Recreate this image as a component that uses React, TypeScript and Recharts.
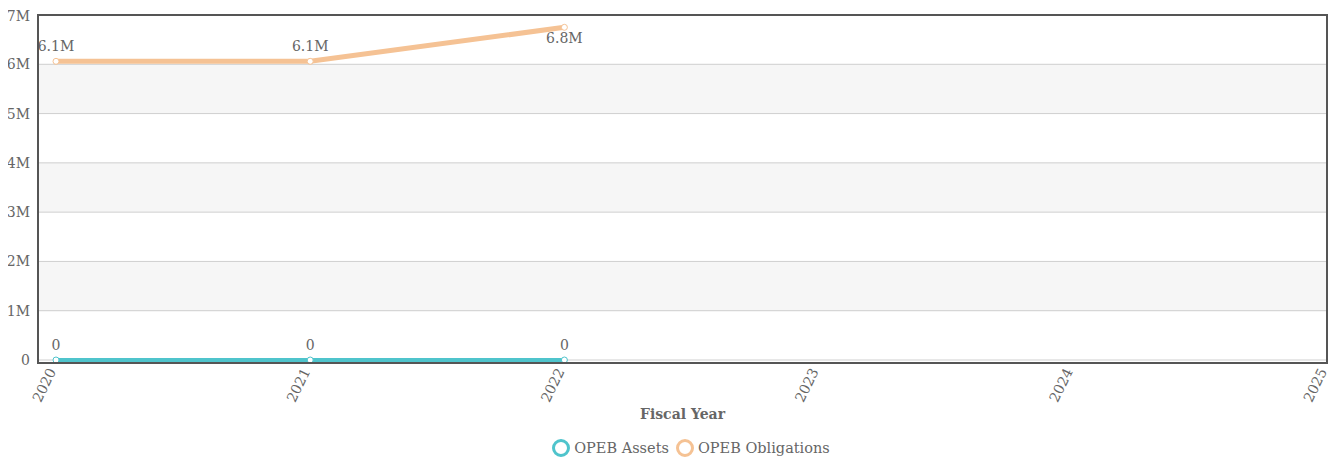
import { LineChart, Line, XAxis, YAxis, CartesianGrid, Legend, LabelList } from "recharts";

const years = ["2020", "2021", "2022", "2023", "2024", "2025"];
const opebAssets = [0, 0, 0, null, null, null];
const opebObligations = [6060000, 6060000, 6750000, null, null, null];
const yTicks = [0, 1000000, 2000000, 3000000, 4000000, 5000000, 6000000, 7000000];

const ASSETS_COLOR = "#4fc4cc";
const OBLIGATIONS_COLOR = "#f5c294";
const TEXT_COLOR = "#666";
const AXIS_COLOR = "#555";
const FONT = "'DejaVu Serif', serif";

const CHART_W = 1333;
const CHART_H = 451;
const MARGIN = { top: 7, right: 14, left: 0, bottom: 0 };
const Y_AXIS_W = 30;
const X_AXIS_H = 59;
const LEGEND_H = 40;

const data = years.map((year, i) => ({
  year,
  assets: opebAssets[i],
  obligations: opebObligations[i],
}));

const formatMillions = (v: number) => (v === 0 ? "0" : `${+(v / 1e6).toFixed(1)}M`);

// value label above the point, or below it when the point sits near the top edge
function PointLabel(props: any) {
  const { x, y, value } = props;
  if (value == null) return null;
  const below = y < 40;
  return (
    <text
      x={x}
      y={below ? y + 16 : y - 10}
      textAnchor="middle"
      fill={TEXT_COLOR}
      fontSize={14}
      fontFamily={FONT}
    >
      {formatMillions(value)}
    </text>
  );
}

// slanted year label, its end tucked just under the tick position
function YearTick(props: any) {
  const { x, y, payload } = props;
  const ax = x - 4;
  const ay = y + 1;
  return (
    <text
      x={ax}
      y={ay}
      dy="0.35em"
      textAnchor="end"
      transform={`rotate(-64, ${ax}, ${ay})`}
      fill={TEXT_COLOR}
      fontSize={14}
      fontFamily={FONT}
    >
      {payload.value}
    </text>
  );
}

function RingLegend() {
  const items = [
    { name: "OPEB Assets", color: ASSETS_COLOR },
    { name: "OPEB Obligations", color: OBLIGATIONS_COLOR },
  ];
  return (
    <div
      style={{
        height: LEGEND_H,
        display: "flex",
        alignItems: "flex-end",
        justifyContent: "center",
        gap: 6,
        fontFamily: FONT,
        fontSize: 14.5,
        color: TEXT_COLOR,
        paddingLeft: 46,
        boxSizing: "border-box",
      }}
    >
      {items.map((it) => (
        <span key={it.name} style={{ display: "inline-flex", alignItems: "center", gap: 3, height: 22 }}>
          <svg width={20} height={20}>
            <circle cx={10} cy={10} r={7.5} fill="none" stroke={it.color} strokeWidth={3} />
          </svg>
          {it.name}
        </span>
      ))}
    </div>
  );
}

export default function App() {
  const plotW = CHART_W - MARGIN.left - MARGIN.right - Y_AXIS_W;
  const plotH = CHART_H - MARGIN.top - MARGIN.bottom - X_AXIS_H - LEGEND_H;
  return (
    <div style={{ position: "relative", width: CHART_W, height: CHART_H, fontFamily: FONT }}>
      <LineChart width={CHART_W} height={CHART_H} data={data} margin={MARGIN}>
        <CartesianGrid vertical={false} stroke="#cfcfcf" horizontalFill={["#ffffff", "#f6f6f6"]} />
        <XAxis
          dataKey="year"
          padding={{ left: 18, right: 0 }}
          axisLine={false}
          tickLine={false}
          interval={0}
          height={X_AXIS_H}
          tick={<YearTick />}
          label={{ value: "Fiscal Year", position: "insideBottom", offset: 0, fill: TEXT_COLOR, fontSize: 14, fontWeight: "bold", fontFamily: FONT }}
        />
        <YAxis
          domain={[0, 7000000]}
          ticks={yTicks}
          tickFormatter={formatMillions}
          width={Y_AXIS_W}
          axisLine={false}
          tickLine={false}
          tick={{ fill: TEXT_COLOR, fontSize: 14, fontFamily: FONT }}
        />
        <Legend verticalAlign="bottom" height={LEGEND_H} content={<RingLegend />} />
        <Line
          name="OPEB Assets"
          dataKey="assets"
          stroke={ASSETS_COLOR}
          strokeWidth={4}
          dot={{ r: 3, fill: "#fff", stroke: ASSETS_COLOR, strokeWidth: 1 }}
          isAnimationActive={false}
        >
          <LabelList dataKey="assets" content={<PointLabel />} />
        </Line>
        <Line
          name="OPEB Obligations"
          dataKey="obligations"
          stroke={OBLIGATIONS_COLOR}
          strokeWidth={5}
          dot={{ r: 3, fill: "#fff", stroke: OBLIGATIONS_COLOR, strokeWidth: 1 }}
          isAnimationActive={false}
        >
          <LabelList dataKey="obligations" content={<PointLabel />} />
        </Line>
      </LineChart>
      {/* frame around the plot area; the bottom edge sits just under the zero line */}
      <div
        style={{
          position: "absolute",
          left: MARGIN.left + Y_AXIS_W - 1,
          top: MARGIN.top - 1,
          width: plotW - 2,
          height: plotH + 1,
          border: `2px solid ${AXIS_COLOR}`,
          pointerEvents: "none",
        }}
      />
    </div>
  );
}
